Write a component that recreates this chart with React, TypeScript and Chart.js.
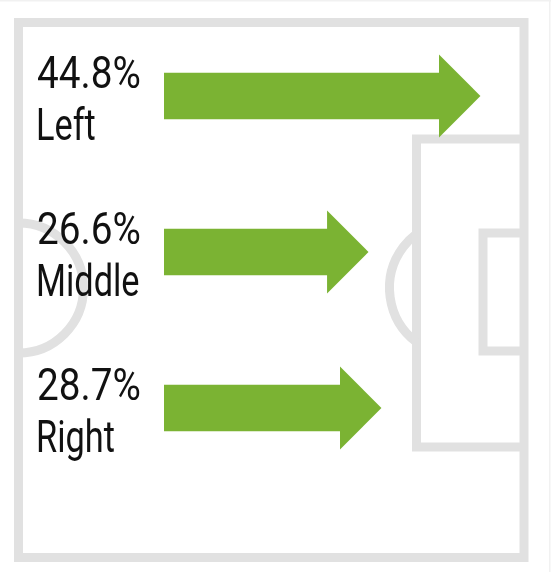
import { useEffect, useRef } from "react";
import { Chart, registerables } from "chart.js";

Chart.register(...registerables);

// Share of attacks by channel
const categories = ["Left", "Middle", "Right"];
const shares = [44.8, 26.6, 28.7];
const shareLabels = shares.map((v) => `${v.toFixed(1)}%`);

const ARROW_GREEN = "#7bb333";
const PITCH_LINE = "#e1e1e1";
const TEXT_COLOR = "#111111";

// Half-pitch line work, drawn underneath the arrows
const pitchPlugin = {
  id: "pitch",
  beforeDatasetsDraw(chart: Chart) {
    const ctx = chart.ctx;
    ctx.save();
    // faint frame around the card
    ctx.fillStyle = "#f1f1f1";
    ctx.fillRect(0, 0, chart.width, 1.5);
    ctx.fillRect(chart.width - 2, 0, 1.5, chart.height);

    ctx.strokeStyle = PITCH_LINE;
    ctx.lineWidth = 9;
    ctx.lineJoin = "miter";

    const left = 18.5;
    const right = 524;
    const top = 22.5;
    const bottom = 557.5;
    const midY = 288;

    // touchlines, halfway line and goal line
    ctx.strokeRect(left, top, right - left, bottom - top);

    // penalty area
    ctx.beginPath();
    ctx.moveTo(right, 139);
    ctx.lineTo(416.5, 139);
    ctx.lineTo(416.5, 447);
    ctx.lineTo(right, 447);
    ctx.stroke();

    // six-yard box
    ctx.beginPath();
    ctx.moveTo(right, 233);
    ctx.lineTo(483, 233);
    ctx.lineTo(483, 351);
    ctx.lineTo(right, 351);
    ctx.stroke();

    // penalty arc
    const spotX = 457.5;
    const arcR = 68;
    const a0 = Math.acos((416.5 - spotX) / arcR);
    ctx.beginPath();
    ctx.arc(spotX, midY, arcR, a0, Math.PI * 2 - a0);
    ctx.stroke();

    // centre circle (half)
    ctx.beginPath();
    ctx.arc(left, midY, 65, -Math.PI / 2, Math.PI / 2);
    ctx.stroke();

    ctx.restore();
  },
};

// Turns each horizontal bar into an arrow by adding a triangular head
const arrowHeadPlugin = {
  id: "arrowHead",
  afterDatasetsDraw(chart: Chart) {
    const ctx = chart.ctx;
    const meta = chart.getDatasetMeta(0);
    ctx.save();
    ctx.fillStyle = ARROW_GREEN;
    meta.data.forEach((bar: any) => {
      const { x, y, height } = bar.getProps(["x", "y", "height"], true);
      const half = height * 0.9;
      const len = height * 0.89;
      ctx.beginPath();
      ctx.moveTo(x - 0.5, y - half);
      ctx.lineTo(x + len, y);
      ctx.lineTo(x - 0.5, y + half);
      ctx.closePath();
      ctx.fill();
    });
    ctx.restore();
  },
};

// Percentage and channel name beside each arrow
const labelPlugin = {
  id: "channelLabels",
  afterDraw(chart: Chart) {
    const ctx = chart.ctx;
    const yScale = chart.scales.y;
    ctx.save();
    ctx.fillStyle = TEXT_COLOR;
    ctx.textAlign = "left";
    ctx.textBaseline = "alphabetic";
    ctx.font = "44px Roboto";
    categories.forEach((name, i) => {
      const cy = yScale.getPixelForValue(i);
      ctx.save();
      ctx.translate(37, cy - 8);
      ctx.scale(0.88, 1);
      ctx.fillText(shareLabels[i], 0, 0);
      ctx.restore();
      ctx.save();
      ctx.translate(36, cy + 44);
      ctx.scale(0.78, 1);
      ctx.fillText(name, 0, 0);
      ctx.restore();
    });
    ctx.restore();
  },
};

export default function App() {
  const canvasRef = useRef<HTMLCanvasElement | null>(null);

  useEffect(() => {
    document.body.style.margin = "0";
    const canvas = canvasRef.current;
    if (!canvas) return;
    const chart = new Chart(canvas, {
      type: "bar",
      data: {
        labels: categories,
        datasets: [
          {
            data: shares,
            backgroundColor: ARROW_GREEN,
            borderWidth: 0,
            barThickness: 46,
          },
        ],
      },
      options: {
        indexAxis: "y",
        responsive: false,
        animation: false,
        layout: { padding: { left: 164, right: 18, top: 18, bottom: 86 } },
        scales: {
          x: { min: 0, max: 60, display: false },
          y: { display: false },
        },
        plugins: {
          legend: { display: false },
          tooltip: { enabled: false },
        },
      },
      plugins: [pitchPlugin, arrowHeadPlugin, labelPlugin],
    });
    return () => chart.destroy();
  }, []);

  return (
    <canvas
      ref={canvasRef}
      width={551}
      height={572}
      style={{ display: "block", width: 551, height: 572 }}
    />
  );
}
